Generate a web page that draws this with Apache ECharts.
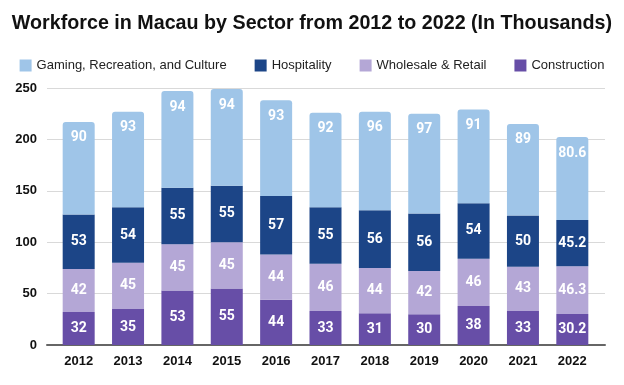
<!DOCTYPE html>
<html><head><meta charset="utf-8">
<script src="https://cdn.jsdelivr.net/npm/echarts@6/dist/echarts.min.js"></script>
<style>html,body{margin:0;padding:0;background:#fff}#c{width:624px;height:385px}</style>
</head><body><div id="c"></div>
<script>
const years = ['2012','2013','2014','2015','2016','2017','2018','2019','2020','2021','2022'];
const construction = [32,35,53,55,44,33,31,30,38,33,30.2];
const wholesale = [42,45,45,45,44,46,44,42,46,43,46.3];
const hospitality = [53,54,55,55,57,55,56,56,54,50,45.2];
const gaming = [90,93,94,94,93,92,96,97,91,89,80.6];
const yTicks = [0,50,100,150,200,250];

const chart = echarts.init(document.getElementById('c'));
const lbl = {show:true, color:'#fff', fontWeight:'bold', fontSize:14, fontFamily:'Roboto, Arial, sans-serif'};
function s(name, data, color, pos, radius){
  return {name, type:'bar', stack:'a', data, xAxisIndex:1, yAxisIndex:1, barWidth:32,
    itemStyle:{color, borderRadius:radius||0},
    label:Object.assign({position:pos}, lbl)};
}
chart.setOption({
  animation:false,
  title:{text:'Workforce in Macau by Sector from 2012 to 2022 (In Thousands)', left:'center', top:9,
    textStyle:{fontSize:19.7, fontWeight:'bold', color:'#111', fontFamily:'Arial, Liberation Sans, sans-serif'}},
  legend:{top:54, left:'center', itemWidth:12, itemHeight:12, itemGap:28, icon:'rect',
    data:['Gaming, Recreation, and Culture','Hospitality','Wholesale & Retail','Construction'],
    textStyle:{fontSize:13, color:'#222', fontFamily:'Arial, Liberation Sans, sans-serif'}},
  grid:[{left:47,right:19,top:88,bottom:40},{left:54,right:27,top:88,bottom:40}],
  xAxis:[
    {gridIndex:0, type:'value', min:0, max:1, axisLabel:{show:false}, axisTick:{show:false}, splitLine:{show:false},
     axisLine:{show:true, lineStyle:{color:'#666', width:2}}},
    {gridIndex:1, type:'category', data:years, axisLine:{show:false}, axisTick:{show:false},
     axisLabel:{color:'#111', fontWeight:'bold', fontSize:13, margin:10, fontFamily:'Arial, Liberation Sans, sans-serif'}}
  ],
  yAxis:[
    {gridIndex:0, type:'value', min:0, max:250, interval:50, axisLine:{show:false}, axisTick:{show:false},
     axisLabel:{color:'#111', fontWeight:'bold', fontSize:13, margin:10, fontFamily:'Arial, Liberation Sans, sans-serif',
       formatter:v=>yTicks.includes(v)?String(v):''},
     splitLine:{lineStyle:{color:'#d9d9d9'}}},
    {gridIndex:1, type:'value', min:0, max:250, interval:50, show:false}
  ],
  series:[
    s('Construction', construction, '#674ea7', 'inside'),
    s('Wholesale & Retail', wholesale, '#b4a7d6', 'inside'),
    s('Hospitality', hospitality, '#1c4587', 'inside'),
    Object.assign(s('Gaming, Recreation, and Culture', gaming, '#9fc5e8', 'insideTop', [3,3,0,0]), {label:Object.assign({position:'insideTop', distance:9}, lbl)})
  ]
});
</script></body></html>
